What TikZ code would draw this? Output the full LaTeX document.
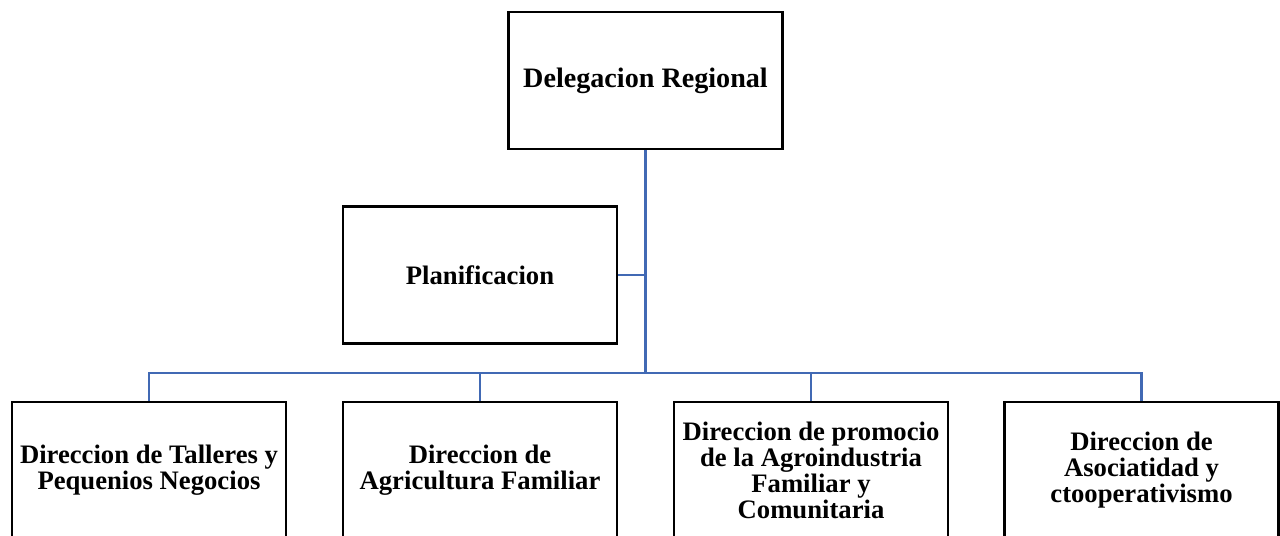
\documentclass[tikz,border=0pt]{standalone}
\usepackage{fontspec}
\setmainfont{Liberation Serif}
\usetikzlibrary{calc}
\usetikzlibrary{positioning}
\definecolor{linkblue}{HTML}{4169B4}

\begin{document}
\begin{tikzpicture}[x=0.75pt, y=-0.75pt,
    orgbox/.style={draw=black, line width=2.1pt, fill=white, minimum width=274*0.75pt,
        minimum height=137*0.75pt, align=center, inner sep=2pt,
        font=\fontsize{20}{19.5}\selectfont\bfseries},
    link/.style={draw=linkblue, line width=1.8pt}]
    \clip (0,0) rectangle (1280,535);
    \useasboundingbox (0,0) rectangle (1280,535);

    % Top level
    \node[orgbox, font=\fontsize{21.1}{20}\selectfont\bfseries] (deleg) at (645.5,80.5) {Delegacion Regional};

    % Staff unit
    \node[orgbox] (plan) at (480,275) {Planificacion};

    % Directions
    \node[orgbox] (dirtall) at (149,470.5) {Direccion de Talleres y\\Pequenios Negocios};
    \node[orgbox] (diragri) at (480,470.5) {Direccion de\\Agricultura Familiar};
    \node[orgbox] (dirprom) at (811,470.5) {Direccion de promocio\\de la Agroindustria\\Familiar y\\Comunitaria};
    \node[orgbox] (dirasoc) at (1141.5,470.5) {Direccion de\\Asociatidad y\\ctooperativismo};

    % Connectors
    \coordinate (bus) at (645.5,373);
    \draw[link] (deleg.south) -- (bus);
    \draw[link] (plan.east) -- (plan.east -| bus);
    \draw[link] (dirtall.north) |- (bus);
    \draw[link] (diragri.north) |- (bus);
    \draw[link] (dirprom.north) |- (bus);
    \draw[link] (dirasoc.north) |- (bus);
\end{tikzpicture}
\end{document}
